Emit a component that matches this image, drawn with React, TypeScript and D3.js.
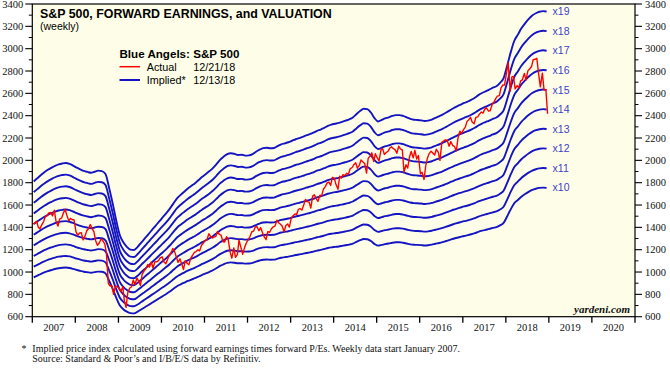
import React from "react";
import * as d3 from "d3";

const W = 670;
const H = 375;

// Year labels on the x axis
const yearLabels = [2007, 2008, 2009, 2010, 2011, 2012, 2013, 2014, 2015, 2016, 2017, 2018, 2019, 2020];
// Y ticks
const yMajorTicks = [600, 800, 1000, 1200, 1400, 1600, 1800, 2000, 2200, 2400, 2600, 2800, 3000, 3200, 3400];
const yMinorTicks = [700, 900, 1100, 1300, 1500, 1700, 1900, 2100, 2300, 2500, 2700, 2900, 3100, 3300];
// Forward P/E multiples for the "Blue Angels"
const multiples = [10, 11, 12, 13, 14, 15, 16, 17, 18, 19];

// S&P 500 forward earnings, monthly, Jan 2007 - Dec 2018
const fwdEarnings = [
  95.3, 96.8, 98.2, 99.6, 100.8, 101.8, 102.7, 103.4, 103.8, 104.0, 103.6, 102.8,
  101.8, 101.0, 100.3, 99.8, 99.4, 99.9, 100.4, 100.2, 98.8, 92.5, 85.0, 77.0,
  70.0, 66.5, 64.5, 63.2, 63.0, 64.5, 66.5, 68.5, 70.5, 72.5, 74.5, 76.5,
  78.5, 80.5, 82.5, 85.0, 87.3, 89.0, 90.5, 92.0, 93.3, 94.5, 96.0, 97.5,
  98.8, 100.2, 101.6, 103.5, 105.5, 107.0, 108.2, 108.6, 108.3, 107.8, 107.9, 107.5,
  107.6, 108.2, 109.3, 110.3, 111.0, 111.2, 111.0, 111.1, 112.0, 112.8, 113.3, 113.8,
  114.5, 115.2, 115.7, 116.3, 117.0, 117.6, 118.3, 119.2, 119.8, 120.6, 121.5, 122.1,
  122.5, 122.9, 123.4, 124.0, 124.6, 125.5, 127.0, 128.5, 129.6, 129.4, 127.8, 125.2,
  123.6, 124.3, 125.0, 125.5, 126.2, 126.6, 126.6, 126.2, 125.5, 124.8, 124.4, 124.3,
  124.1, 123.8, 124.0, 124.5, 125.3, 126.0, 126.8, 127.8, 128.8, 129.8, 130.7, 131.5,
  132.3, 133.0, 133.8, 134.8, 136.0, 137.0, 137.8, 138.6, 139.5, 140.2, 141.8, 144.0,
  150.0, 156.5, 161.5, 164.5, 167.5, 169.8, 171.8, 173.5, 174.6, 175.3, 175.6, 175.4,
];

// S&P 500 index, two readings per month, Jan 2007 - Dec 2018
const sp500 = [
  1430, 1438, 1455, 1400, 1387, 1420, 1452, 1494, 1505, 1530, 1533, 1503, 1553, 1458, 1411, 1473, 1484, 1527, 1561, 1509, 1458, 1481, 1468, 1468,
  1360, 1330, 1350, 1353, 1288, 1315, 1370, 1388, 1425, 1395, 1360, 1283, 1240, 1257, 1296, 1282, 1252, 1166, 899, 877, 873, 800, 876, 872,
  850, 826, 869, 735, 683, 815, 857, 866, 929, 887, 946, 918, 880, 979, 1010, 1029, 1068, 1044, 1090, 1036, 1093, 1091, 1102, 1126,
  1136, 1092, 1075, 1109, 1150, 1166, 1211, 1187, 1136, 1087, 1117, 1076, 1022, 1101, 1079, 1064, 1125, 1148, 1176, 1183, 1199, 1190, 1240, 1257,
  1283, 1286, 1343, 1320, 1304, 1313, 1319, 1363, 1337, 1331, 1271, 1268, 1316, 1292, 1178, 1124, 1216, 1131, 1155, 1285, 1216, 1159, 1219, 1258,
  1289, 1316, 1361, 1366, 1404, 1408, 1370, 1398, 1353, 1317, 1290, 1362, 1356, 1385, 1405, 1411, 1465, 1441, 1428, 1412, 1359, 1416, 1430, 1402,
  1485, 1503, 1520, 1515, 1560, 1569, 1555, 1597, 1650, 1631, 1626, 1573, 1680, 1692, 1655, 1633, 1688, 1682, 1744, 1762, 1798, 1806, 1775, 1848,
  1839, 1783, 1741, 1859, 1841, 1872, 1864, 1884, 1878, 1924, 1936, 1960, 1978, 1930, 1955, 2003, 1985, 1972, 1886, 2018, 2039, 2068, 1990, 2059,
  2019, 1995, 2097, 2105, 2053, 2068, 2081, 2108, 2122, 2107, 2094, 2063, 2126, 2104, 2091, 1893, 1961, 1931, 2033, 2079, 2023, 2090, 2012, 2044,
  1880, 1893, 1829, 1948, 2022, 2060, 2081, 2065, 2047, 2099, 2071, 2000, 2161, 2173, 2184, 2180, 2127, 2168, 2133, 2126, 2085, 2199, 2262, 2239,
  2275, 2295, 2351, 2364, 2385, 2343, 2328, 2384, 2390, 2412, 2433, 2423, 2459, 2470, 2441, 2444, 2500, 2519, 2553, 2575, 2579, 2648, 2676, 2674,
  2786, 2873, 2620, 2747, 2752, 2640, 2670, 2648, 2712, 2721, 2779, 2718, 2801, 2818, 2840, 2901, 2905, 2914, 2767, 2658, 2781, 2632, 2633, 2417,
];

const START_YEAR = 2007;

const SANS = "'Liberation Sans', Arial, sans-serif";
const SERIF = "'Liberation Serif', 'Times New Roman', serif";
const BLUE = "#1414c2";
const RED = "#ff0000";
const LABEL_BLUE = "#4040cc";

export default function App() {
  const left = 32.3;
  const right = 635;
  const top = 4;
  const bottom = 316.7;

  const x = d3
    .scaleTime()
    .domain([new Date(2007, 0, 1), new Date(2021, 0, 1)])
    .range([left, right]);
  const y = d3.scaleLinear().domain([600, 3400]).range([bottom, top]);

  const epsPoints = fwdEarnings.map((v, i) => ({
    date: new Date(START_YEAR + Math.floor(i / 12), i % 12, 13),
    value: v,
  }));
  const spPoints = sp500.map((v, i) => ({
    date: new Date(START_YEAR + Math.floor(i / 24), Math.floor((i % 24) / 2), i % 2 ? 21 : 7),
    value: v,
  }));

  const line = d3
    .line<{ date: Date; value: number }>()
    .x((d) => x(d.date))
    .y((d) => y(d.value))
    .curve(d3.curveMonotoneX);

  const spLine = d3
    .line<{ date: Date; value: number }>()
    .x((d) => x(d.date))
    .y((d) => y(d.value));

  const lastEps = epsPoints[epsPoints.length - 1];

  const yearTicks = d3.range(2007, 2022).map((yr) => new Date(yr, 0, 1));

  return (
    <svg
      width={W}
      height={H}
      viewBox={`0 0 ${W} ${H}`}
      style={{ position: "absolute", left: 0, top: 0, background: "#ffffff" }}
    >
      <defs>
        <clipPath id="plotclip">
          <rect x={left} y={top} width={right - left} height={bottom - top} />
        </clipPath>
      </defs>
      <rect x={left} y={top} width={right - left} height={bottom - top} fill="#fefee8" />

      {/* Blue angels and actual index */}
      <g clipPath="url(#plotclip)">
        {multiples.map((m) => (
          <path
            key={m}
            d={line(epsPoints.map((p) => ({ date: p.date, value: p.value * m }))) || ""}
            fill="none"
            stroke={BLUE}
            strokeWidth={1.9}
          />
        ))}
        <path d={spLine(spPoints) || ""} fill="none" stroke={RED} strokeWidth={1.4} strokeLinejoin="round" />
      </g>

      {/* Multiple labels */}
      {multiples.map((m) => (
        <text
          key={m}
          x={x(lastEps.date) + 6}
          y={y(lastEps.value * m)}
          dy="0.35em"
          fontFamily={SANS}
          fontSize={10.5}
          fill={LABEL_BLUE}
        >
          {`x${m}`}
        </text>
      ))}

      {/* Frame */}
      <rect x={left} y={top} width={right - left} height={bottom - top} fill="none" stroke="#000" strokeWidth={1.2} />

      {/* Y axes */}
      {yMajorTicks.map((t) => (
        <g key={t}>
          <line x1={left - 7} x2={left} y1={y(t)} y2={y(t)} stroke="#000" strokeWidth={1.1} />
          <line x1={right} x2={right + 7} y1={y(t)} y2={y(t)} stroke="#000" strokeWidth={1.1} />
          <text x={left - 9} y={y(t)} dy="0.35em" textAnchor="end" fontFamily={SERIF} fontSize={10.5} fill="#111">
            {t}
          </text>
          <text x={right + 10} y={y(t)} dy="0.35em" textAnchor="start" fontFamily={SERIF} fontSize={10.5} fill="#111">
            {t}
          </text>
        </g>
      ))}
      {yMinorTicks.map((t) => (
        <g key={t}>
          <line x1={left - 3.5} x2={left} y1={y(t)} y2={y(t)} stroke="#000" strokeWidth={1} />
          <line x1={right} x2={right + 3.5} y1={y(t)} y2={y(t)} stroke="#000" strokeWidth={1} />
        </g>
      ))}

      {/* X axis */}
      {yearTicks.map((d, i) => (
        <line key={i} x1={x(d)} x2={x(d)} y1={bottom} y2={bottom + 6} stroke="#000" strokeWidth={1.3} />
      ))}
      {yearLabels.map((yr) => (
        <text
          key={yr}
          x={(x(new Date(yr, 0, 1)) + x(new Date(yr + 1, 0, 1))) / 2}
          y={331}
          textAnchor="middle"
          fontFamily={SERIF}
          fontSize={10.5}
          fill="#111"
        >
          {yr}
        </text>
      ))}

      {/* Title */}
      <text x={40} y={18.3} fontFamily={SANS} fontWeight="bold" fontSize={12.4} fill="#000">
        S&amp;P 500, FORWARD EARNINGS, and VALUATION
      </text>
      <text x={40} y={30} fontFamily={SANS} fontSize={10.5} fill="#000">
        (weekly)
      </text>

      {/* Legend */}
      <text x={119.5} y={58.3} fontFamily={SANS} fontWeight="bold" fontSize={11.6} fill="#000">
        Blue Angels: S&amp;P 500
      </text>
      <line x1={119.5} x2={140} y1={66.7} y2={66.7} stroke={RED} strokeWidth={1.5} />
      <text x={146.7} y={70.7} fontFamily={SANS} fontSize={10.8} fill="#000">
        Actual
      </text>
      <text x={193.3} y={70.7} fontFamily={SANS} fontSize={10.8} fill="#000">
        12/21/18
      </text>
      <line x1={119.5} x2={140} y1={80} y2={80} stroke={BLUE} strokeWidth={2} />
      <text x={146.7} y={84} fontFamily={SANS} fontSize={10.8} fill="#000">
        Implied*
      </text>
      <text x={193.3} y={84} fontFamily={SANS} fontSize={10.8} fill="#000">
        12/13/18
      </text>

      {/* Watermark */}
      <text x={630} y={312.5} textAnchor="end" fontFamily={SERIF} fontWeight="bold" fontStyle="italic" fontSize={11} fill="#111">
        yardeni.com
      </text>

      {/* Footnote */}
      <text x={21.5} y={352} fontFamily={SERIF} fontSize={10} fill="#111">
        *
      </text>
      <text x={32.3} y={352} fontFamily={SERIF} fontSize={10} fill="#111">
        Implied price index calculated using forward earnings times forward P/Es. Weekly data start January 2007.
      </text>
      <text x={32.3} y={362} fontFamily={SERIF} fontSize={10} fill="#111">
        Source: Standard &amp; Poor’s and I/B/E/S data by Refinitiv.
      </text>
    </svg>
  );
}
